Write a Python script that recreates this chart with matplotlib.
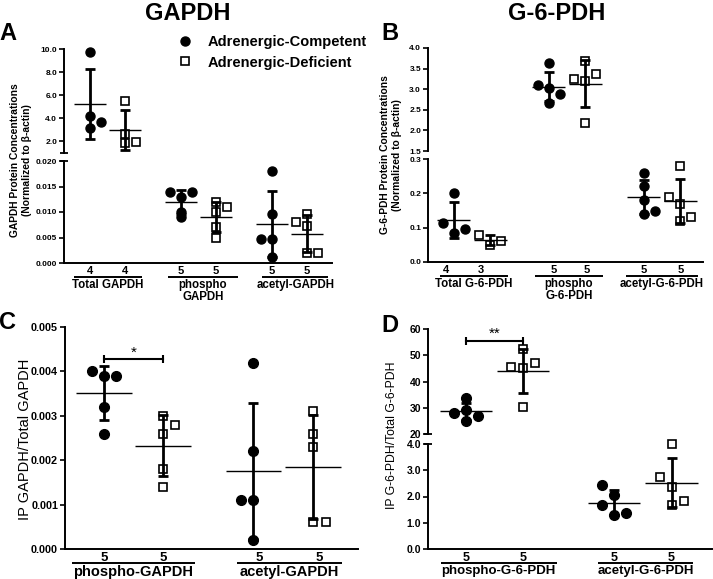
import matplotlib
matplotlib.use('Agg')
import matplotlib.pyplot as plt
from matplotlib.lines import Line2D
from matplotlib.transforms import blended_transform_factory
import numpy as np

plt.rcParams['font.family'] = ['Liberation Sans', 'DejaVu Sans']
plt.rcParams['axes.linewidth'] = 1.4

W, H = 713, 579
fig = plt.figure(figsize=(W / 100, H / 100), dpi=100)

legend_labels = ['Adrenergic-Competent', 'Adrenergic-Deficient']

# ---------------- Panel A: GAPDH protein (normalized to beta-actin)
a_groups = ['Total GAPDH', 'phospho\nGAPDH', 'acetyl-GAPDH']
a_total_comp = [9.7, 4.2, 3.2, 3.7]
a_total_def = [5.5, 2.65, 1.85, 1.95]
a_phospho_comp = [0.014, 0.014, 0.013, 0.010, 0.009]
a_phospho_def = [0.012, 0.011, 0.010, 0.007, 0.005]
a_acetyl_comp = [0.018, 0.0097, 0.0048, 0.0048, 0.0012]
a_acetyl_def = [0.0097, 0.0081, 0.0072, 0.0019, 0.0020]
a_top_ticks = [2.0, 4.0, 6.0, 8.0, 10.0]
a_top_labels = ['2.0', '4.0', '6.0', '8.0', '10.0']
a_bot_ticks = [0.0, 0.005, 0.010, 0.015, 0.020]
a_bot_labels = ['0.000', '0.005', '0.010', '0.015', '0.020']

# ---------------- Panel B: G-6-PDH protein
b_groups = ['Total G-6-PDH', 'phospho\nG-6-PDH', 'acetyl-G-6-PDH']
b_total_comp = [0.2, 0.113, 0.095, 0.085]
b_total_def = [0.079, 0.061, 0.05]
b_phospho_comp = [3.63, 3.11, 3.02, 2.89, 2.66]
b_phospho_def = [3.69, 3.37, 3.24, 3.20, 2.17]
b_acetyl_comp = [0.26, 0.22, 0.18, 0.15, 0.14]
b_acetyl_def = [0.28, 0.19, 0.17, 0.13, 0.12]
b_top_ticks = [1.5, 2.0, 2.5, 3.0, 3.5, 4.0]
b_top_labels = ['1.5', '2.0', '2.5', '3.0', '3.5', '4.0']
b_bot_ticks = [0.0, 0.1, 0.2, 0.3]
b_bot_labels = ['0.0', '0.1', '0.2', '0.3']

# ---------------- Panel C: IP GAPDH / Total GAPDH
c_groups = ['phospho-GAPDH', 'acetyl-GAPDH']
c_phospho_comp = [0.0040, 0.0039, 0.0039, 0.0032, 0.0026]
c_phospho_def = [0.0030, 0.0028, 0.0026, 0.0018, 0.0014]
c_acetyl_comp = [0.0042, 0.0022, 0.0011, 0.0011, 0.0002]
c_acetyl_def = [0.0031, 0.0026, 0.0023, 0.0006, 0.0006]
c_ticks = [0.0, 0.001, 0.002, 0.003, 0.004, 0.005]
c_labels = ['0.000', '0.001', '0.002', '0.003', '0.004', '0.005']

# ---------------- Panel D: IP G-6-PDH / Total G-6-PDH
d_groups = ['phospho-G-6-PDH', 'acetyl-G-6-PDH']
d_phospho_comp = [33.8, 29.1, 28.1, 27.0, 25.0]
d_phospho_def = [52.3, 47.2, 45.4, 45.0, 30.2]
d_acetyl_comp = [2.43, 2.04, 1.66, 1.37, 1.31]
d_acetyl_def = [4.0, 2.74, 2.36, 1.84, 1.66]
d_top_ticks = [20, 30, 40, 50, 60]
d_top_labels = ['20', '30', '40', '50', '60']
d_bot_ticks = [0.0, 1.0, 2.0, 3.0, 4.0]
d_bot_labels = ['0.0', '1.0', '2.0', '3.0', '4.0']

# ---------------- layout helpers (not data)
def px_axes(x0, y0, x1, y1):
    return fig.add_axes([x0 / W, 1 - y1 / H, (x1 - x0) / W, (y1 - y0) / H])


def style(ax, ticks, labels, size, bottom):
    for s in ['top', 'right']:
        ax.spines[s].set_visible(False)
    ax.spines['bottom'].set_visible(bottom)
    ax.spines['left'].set_linewidth(1.4)
    ax.spines['bottom'].set_linewidth(1.4)
    ax.set_yticks(ticks, labels, fontweight='bold', fontsize=size)
    ax.tick_params(axis='y', direction='out', length=3.5, width=1.2, pad=1.5)
    ax.tick_params(axis='x', bottom=False, labelbottom=False)
    ax.patch.set_visible(False)


def end_mark(ax, yfrac):
    ax.plot([0], [yfrac], transform=ax.transAxes, marker='_', ms=6,
            mew=1.3, color='k', clip_on=False)


def draw_series(axes, x, vals, jit, filled, jscale, ms, half=0.45):
    vals = np.asarray(vals, dtype=float)
    xs = x + np.asarray(jit) * jscale
    m = vals.mean()
    s = vals.std(ddof=1)
    for ax in axes:
        lo, hi = ax.get_ylim()
        sel = (vals >= lo - 1e-9) & (vals <= hi + 1e-9)
        if sel.any():
            ax.plot(xs[sel], vals[sel], ls='none',
                    marker='o' if filled else 's', ms=ms if filled else ms - 0.6,
                    mfc='k' if filled else 'none', mec='k',
                    mew=1.0 if filled else 1.2, clip_on=False, zorder=3)
        ax.errorbar([x], [m], yerr=[s], fmt='none', ecolor='k',
                    elinewidth=2, capsize=3.5, capthick=2, zorder=2)
        ax.hlines(m, x - half, x + half, color='k', lw=1, zorder=2)


def below(ax, x, text, dy, size, **kw):
    ax.annotate(text, xy=(x, 0), xycoords=('data', 'axes fraction'),
                xytext=(0, -dy), textcoords='offset pixels', ha='center',
                fontsize=size, fontweight='bold', annotation_clip=False, **kw)


def underline(ax, xc, hw, dy):
    tr = blended_transform_factory(ax.transData, ax.transAxes)
    hpx = ax.bbox.height
    ax.plot([xc - hw, xc + hw], [-dy / hpx] * 2, transform=tr, color='k',
            lw=1.4, clip_on=False, solid_capstyle='butt')


def bracket(ax, x0, x1, y, stars, size):
    ax.plot([x0, x1], [y, y], color='k', lw=1.5, clip_on=False)
    ax.plot([x0, x1], [y, y], ls='none', marker='|', ms=6, mew=1.5,
            color='k', clip_on=False)
    ax.text((x0 + x1) / 2, y, stars, ha='center', va='bottom', fontsize=size)


# ================= Panel A
aT = px_axes(64, 49, 332, 153)
aB = px_axes(64, 161, 332, 263)
for ax in (aT, aB):
    ax.set_xlim(-0.74, 6.91)
aT.set_ylim(1.0, 10.0)
aB.set_ylim(0.0, 0.020)
style(aT, a_top_ticks, a_top_labels, 6, False)
style(aB, a_bot_ticks, a_bot_labels, 6, True)
end_mark(aT, 0)
end_mark(aB, 1)
a_pos = [0, 1, 2.6, 3.6, 5.2, 6.2]
a_series = [a_total_comp, a_total_def, a_phospho_comp, a_phospho_def,
            a_acetyl_comp, a_acetyl_def]
a_jit = [[0, 0, 0, 1], [0, 0, 0, 1], [-1, 1, 0, 0, 0], [0, 1, 0, 0, 0],
         [0, 0, -1, 0, 0], [0, -1, 0, 0, 1]]
for i, (p, v, j) in enumerate(zip(a_pos, a_series, a_jit)):
    draw_series((aT, aB), p, v, j, i % 2 == 0, 0.31, 6.5)
    below(aB, p, str(len(v)), 11, 8, va='baseline')
a_lab_c = [0.51, 3.23, 5.86]
a_lab_hw = [0.97, 1.0, 0.94]
for g, xc, hw in zip(a_groups, a_lab_c, a_lab_hw):
    underline(aB, xc, hw, 14)
    below(aB, xc, g, 16, 8.3, va='top', linespacing=1.05)

# ================= Panel B
bT = px_axes(428, 48, 703, 151)
bB = px_axes(428, 159, 703, 262)
for ax in (bT, bB):
    ax.set_xlim(-0.71, 6.82)
bT.set_ylim(1.5, 4.0)
bB.set_ylim(0.0, 0.3)
style(bT, b_top_ticks, b_top_labels, 6, False)
style(bB, b_bot_ticks, b_bot_labels, 6, True)
b_pos = [0, 1, 2.6, 3.6, 5.2, 6.2]
b_series = [b_total_comp, b_total_def, b_phospho_comp, b_phospho_def,
            b_acetyl_comp, b_acetyl_def]
b_jit = [[0, -1, 1, 0], [-1, 1, 0], [0, -1, 0, 1, 0], [0, 1, -1, 0, 0],
         [0, 0, 0, 1, 0], [0, -1, 0, 1, 0]]
b_cnt_shift = [-0.22, -0.25, 0.12, 0.05, 0.0, 0.0]
for i, (p, v, j, sh) in enumerate(zip(b_pos, b_series, b_jit, b_cnt_shift)):
    draw_series((bT, bB), p, v, j, i % 2 == 0, 0.3, 6.5)
    below(bB, p + sh, str(len(v)), 11, 8, va='baseline')
b_lab_c = [0.55, 3.15, 5.7]
b_lab_hw = [0.92, 0.92, 0.98]
for g, xc, hw in zip(b_groups, b_lab_c, b_lab_hw):
    underline(bB, xc, hw, 14)
    below(bB, xc, g, 16, 8.3, va='top', linespacing=1.05)

# ================= Panel C
cA = px_axes(65, 327, 358, 549)
cA.set_xlim(-0.66, 4.3)
cA.set_ylim(0.0, 0.005)
style(cA, c_ticks, c_labels, 7.8, True)
c_pos = [0, 1, 2.53, 3.54]
c_series = [c_phospho_comp, c_phospho_def, c_acetyl_comp, c_acetyl_def]
c_jit = [[-1, 0, 1, 0, 0], [0, 1, 0, 0, 0], [0, 0, -1, 0, 0], [0, 0, 0, 0, 1]]
c_cnt_shift = [0, 0, 0.09, 0.1]
for i, (p, v, j, sh) in enumerate(zip(c_pos, c_series, c_jit, c_cnt_shift)):
    draw_series((cA,), p, v, j, i % 2 == 0, 0.21, 7, half=0.47)
    below(cA, p + sh, str(len(v)), 12, 9.5, va='baseline')
c_lab_c = [0.5, 3.14]
c_lab_hw = [1.04, 0.89]
for g, xc, hw in zip(c_groups, c_lab_c, c_lab_hw):
    underline(cA, xc, hw, 14)
    below(cA, xc, g, 16, 10.5, va='top')
bracket(cA, c_pos[0], c_pos[1], 0.00427, '*', 11)

# ================= Panel D
dT = px_axes(428, 329, 712, 434)
dB = px_axes(428, 444, 712, 549)
for ax in (dT, dB):
    ax.set_xlim(-0.67, 4.32)
dT.set_ylim(20, 60)
dB.set_ylim(0.0, 4.0)
style(dT, d_top_ticks, d_top_labels, 7.5, False)
style(dB, d_bot_ticks, d_bot_labels, 7.5, True)
end_mark(dT, 0)
end_mark(dB, 1)
d_pos = [0, 1, 2.6, 3.61]
d_series = [d_phospho_comp, d_phospho_def, d_acetyl_comp, d_acetyl_def]
d_jit = [[0, 0, -1, 1, 0], [0, 1, -1, 0, 0], [-1, 0, -1, 1, 0], [0, -1, 0, 1, 0]]
for i, (p, v, j) in enumerate(zip(d_pos, d_series, d_jit)):
    draw_series((dT, dB), p, v, j, i % 2 == 0, 0.21, 7, half=0.46)
    below(dB, p, str(len(v)), 12, 9, va='baseline')
d_lab_c = [0.57, 3.15]
d_lab_hw = [1.02, 0.83]
for g, xc, hw in zip(d_groups, d_lab_c, d_lab_hw):
    underline(dB, xc, hw, 14)
    below(dB, xc, g, 16, 9.5, va='top')
bracket(dT, d_pos[0], d_pos[1], 55.4, '**', 11)

# ================= titles, letters, y labels
fig.text(188 / W, 1 - 13 / H, 'GAPDH', ha='center', va='center',
         fontsize=17, fontweight='bold')
fig.text(557 / W, 1 - 13 / H, 'G-6-PDH', ha='center', va='center',
         fontsize=17, fontweight='bold')
for letter, x, y in [('A', -1, 33), ('B', 381, 34), ('C', -1, 322), ('D', 381, 325)]:
    fig.text(x / W, 1 - y / H, letter, ha='left', va='center',
             fontsize=17, fontweight='bold')

fig.text(21 / W, 1 - 160 / H,
         'GAPDH Protein Concentrations\n(Normalized to \u03b2-actin)',
         rotation=90, ha='center', va='center', fontsize=7.4,
         fontweight='bold', linespacing=1.2)
fig.text(391 / W, 1 - 155 / H,
         'G-6-PDH Protein Concentrations\n(Normalized to \u03b2-actin)',
         rotation=90, ha='center', va='center', fontsize=7.4,
         fontweight='bold', linespacing=1.2)
fig.text(25 / W, 1 - 439 / H, 'IP GAPDH/Total GAPDH', rotation=90,
         ha='center', va='center', fontsize=10.5)
fig.text(392 / W, 1 - 435 / H, 'IP G-6-PDH/Total G-6-PDH', rotation=90,
         ha='center', va='center', fontsize=8.8)

# ================= legend
handles = [Line2D([], [], ls='none', marker='o', ms=6.5, mfc='k', mec='k'),
           Line2D([], [], ls='none', marker='s', ms=6, mfc='none', mec='k',
                  mew=1.2)]
fig.legend(handles, legend_labels, loc='upper left',
           bbox_to_anchor=(178 / W, 1 - 35 / H), frameon=False, borderpad=0,
           borderaxespad=0, handlelength=1.0, handletextpad=1.0,
           labelspacing=0.45, prop={'weight': 'bold', 'size': 10.5})

fig.savefig('out.png', dpi=100)
